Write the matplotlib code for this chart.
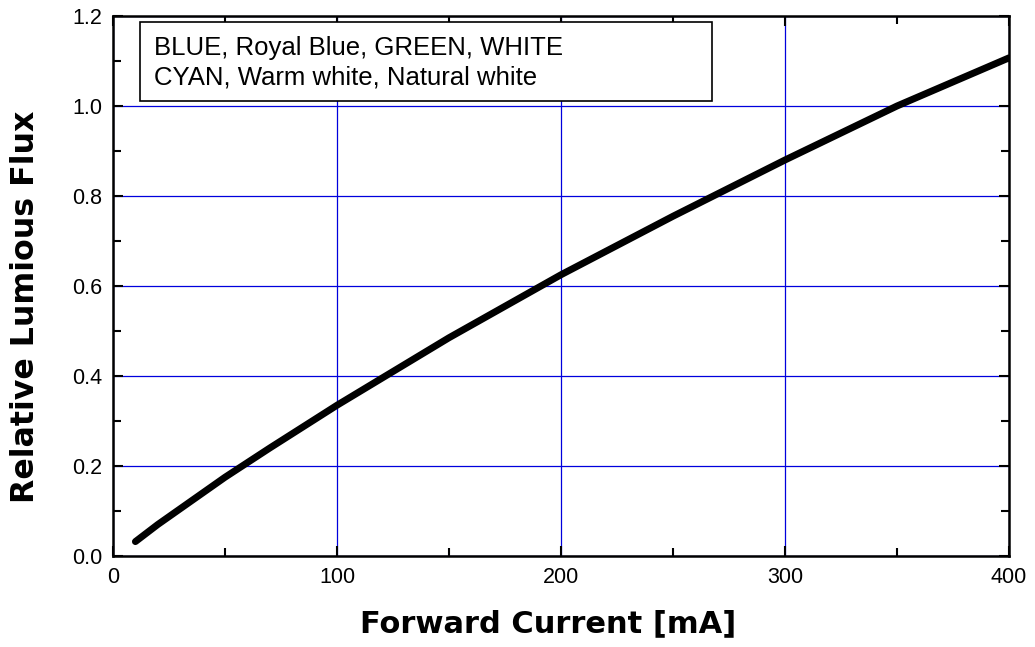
import numpy as np
import matplotlib.pyplot as plt
from matplotlib.patches import Rectangle
from matplotlib.ticker import MultipleLocator

plt.rcParams['font.family'] = ['Liberation Sans', 'DejaVu Sans']

# data
current_mA = [10, 20, 30, 40, 50, 70, 100, 150, 200, 250, 300, 350, 400]
rel_flux = [0.032, 0.07, 0.105, 0.14, 0.175, 0.24, 0.335, 0.485, 0.625, 0.755, 0.88, 1.0, 1.107]

legend_lines = ['BLUE, Royal Blue, GREEN, WHITE',
                'CYAN, Warm white, Natural white']

fig = plt.figure(figsize=(10.35, 6.47), dpi=100)
ax = fig.add_axes([113/1035, 1 - 556/647, 896/1035, 540/647])

ax.plot(current_mA, rel_flux, color='black', lw=5, solid_capstyle='round', zorder=3)

ax.set_xlim(0, 400)
ax.set_ylim(0, 1.2)
ax.xaxis.set_major_locator(MultipleLocator(100))
ax.xaxis.set_minor_locator(MultipleLocator(50))
ax.yaxis.set_major_locator(MultipleLocator(0.2))
ax.yaxis.set_minor_locator(MultipleLocator(0.1))
ax.yaxis.set_major_formatter(plt.FormatStrFormatter('%.1f'))

ax.grid(True, which='major', color='#0000dd', lw=0.9)
ax.tick_params(which='both', direction='in', top=True, right=True,
               width=1.5, labelsize=15.5, pad=8)
ax.tick_params(which='major', length=7)
ax.tick_params(which='minor', length=6)
for s in ax.spines.values():
    s.set_linewidth(1.8)

ax.set_xlabel('Forward Current [mA]', fontsize=22, fontweight='bold',
              family='DejaVu Sans')
ax.set_ylabel('Relative Lumious Flux', fontsize=22.8, fontweight='bold',
              family='DejaVu Sans')
ax.xaxis.set_label_coords(0.4855, -0.098)
ax.yaxis.set_label_coords(-0.080, 0.461)

ax.add_patch(Rectangle((0.030, 0.843), 0.638, 0.146, transform=ax.transAxes,
                       facecolor='white', edgecolor='black', lw=1.2, zorder=4))
ax.text(0.046, 0.914, '\n'.join(legend_lines), transform=ax.transAxes,
        fontsize=18.5, va='center', ha='left', linespacing=1.3, zorder=5)

fig.savefig('out.png', dpi=100)
